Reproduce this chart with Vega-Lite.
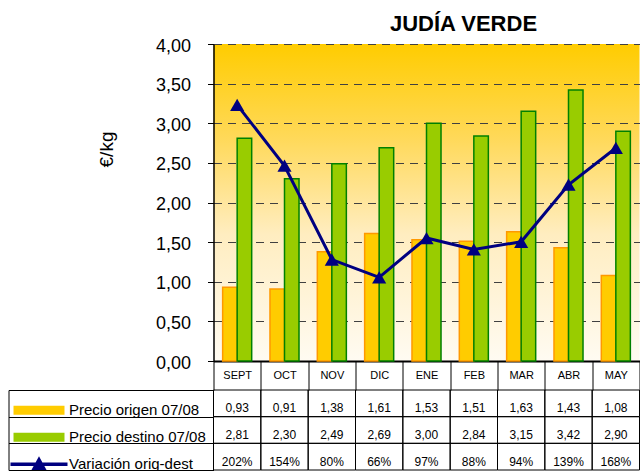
{
  "$schema": "https://vega.github.io/schema/vega-lite/v6.json",
  "padding": {"left": 7.5, "top": 13, "right": 0, "bottom": 0},
  "background": "white",
  "config": {
    "locale": {"number": {"decimal": ",", "thousands": ".", "grouping": [3], "currency": ["", " €"]}},
    "font": "Liberation Sans",
    "view": {"stroke": null}
  },
  "data": {
    "values": [
      {"mes": "SEPT", "Precio origen 07/08": 0.93, "Precio destino 07/08": 2.81, "Variación orig-dest": 2.02},
      {"mes": "OCT", "Precio origen 07/08": 0.91, "Precio destino 07/08": 2.30, "Variación orig-dest": 1.54},
      {"mes": "NOV", "Precio origen 07/08": 1.38, "Precio destino 07/08": 2.49, "Variación orig-dest": 0.80},
      {"mes": "DIC", "Precio origen 07/08": 1.61, "Precio destino 07/08": 2.69, "Variación orig-dest": 0.66},
      {"mes": "ENE", "Precio origen 07/08": 1.53, "Precio destino 07/08": 3.00, "Variación orig-dest": 0.97},
      {"mes": "FEB", "Precio origen 07/08": 1.51, "Precio destino 07/08": 2.84, "Variación orig-dest": 0.88},
      {"mes": "MAR", "Precio origen 07/08": 1.63, "Precio destino 07/08": 3.15, "Variación orig-dest": 0.94},
      {"mes": "ABR", "Precio origen 07/08": 1.43, "Precio destino 07/08": 3.42, "Variación orig-dest": 1.39},
      {"mes": "MAY", "Precio origen 07/08": 1.08, "Precio destino 07/08": 2.90, "Variación orig-dest": 1.68}
    ]
  },
  "transform": [
    {"fold": ["Precio origen 07/08", "Precio destino 07/08", "Variación orig-dest"], "as": ["serie", "valor"]}
  ],
  "vconcat": [
    {
      "width": 426,
      "height": 317,
      "view": {
        "stroke": null,
        "fill": {
          "gradient": "linear", "x1": 0, "y1": 0, "x2": 0, "y2": 1,
          "stops": [
            {"offset": 0, "color": "#FFCC00"},
            {"offset": 0.3, "color": "#FFD95A"},
            {"offset": 0.6, "color": "#FFEDC0"},
            {"offset": 1, "color": "#FFFBF2"}
          ]
        }
      },
      "title": {
        "text": "JUDÍA VERDE", "fontSize": 22, "font": "Liberation Sans", "fontWeight": "bold",
        "color": "black", "anchor": "middle", "frame": "group", "dx": 37, "offset": 1
      },
      "layer": [
        {
          "transform": [{"filter": "datum.serie !== 'Variación orig-dest'"}],
          "mark": {"type": "bar", "strokeWidth": 1.5},
          "encoding": {
            "x": {
              "field": "mes", "type": "nominal",
              "sort": ["SEPT", "OCT", "NOV", "DIC", "ENE", "FEB", "MAR", "ABR", "MAY"],
              "scale": {"paddingInner": 0, "paddingOuter": 0},
              "axis": {
                "title": null, "domain": true, "domainColor": "black", "domainWidth": 2,
                "ticks": true, "tickSize": 29, "tickColor": "black", "tickWidth": 1,
                "tickBand": "extent", "tickExtra": true, "grid": false,
                "labelFontSize": 11, "labelFont": "Liberation Sans", "labelColor": "black",
                "labelBaseline": "middle", "labelPadding": -14.5, "labelAngle": 0
              }
            },
            "xOffset": {
              "field": "serie", "type": "nominal",
              "sort": ["Precio origen 07/08", "Precio destino 07/08"],
              "scale": {"paddingInner": 0, "paddingOuter": 0.63}
            },
            "y": {
              "field": "valor", "type": "quantitative",
              "scale": {"domain": [0, 4]},
              "axis": {
                "values": [0, 0.5, 1, 1.5, 2, 2.5, 3, 3.5, 4], "format": ".2f",
                "title": "€/kg", "titleFontSize": 19, "titleFont": "Liberation Sans",
                "titleFontWeight": "normal", "titleColor": "black",
                "titleX": -107, "titleY": 105, "titleAngle": -90, "titleBaseline": "middle", "titleAlign": "center",
                "labelFontSize": 18, "labelFont": "Liberation Sans", "labelColor": "black",
                "labelPadding": 17, "labelOffset": 2, "tickSize": 6, "tickColor": "black",
                "domainColor": "black", "domainWidth": 1.5,
                "grid": true, "gridColor": "#404040", "gridDash": [8, 6], "gridWidth": 1
              }
            },
            "color": {
              "field": "serie", "type": "nominal",
              "scale": {
                "domain": ["Precio origen 07/08", "Precio destino 07/08", "Variación orig-dest"],
                "range": ["#FFCC00", "#99CC00", "#000080"]
              },
              "legend": {
                "orient": "none", "legendX": -205, "legendY": 353, "title": null,
                "padding": 0, "rowPadding": 0, "clipHeight": 26.67,
                "symbolSize": 2500, "symbolStrokeWidth": 2, "symbolOffset": 4.5,
                "labelOffset": 4, "labelFontSize": 15, "labelFont": "Liberation Sans",
                "labelColor": "black", "labelLimit": 0,
                "encode": {
                  "symbols": {
                    "update": {
                      "size": {"value": 2500},
                      "strokeWidth": {"value": 2},
                      "shape": {"signal": "datum.value === 'Variación orig-dest' ? 'M-1.1,-0.03H1.1V0.03H-1.1ZM-0.24,0.2L0,-0.24L0.24,0.2Z' : 'M-0.98,-0.14H0.98V0.14H-0.98Z'"},
                      "fill": {"signal": "datum.value === 'Precio origen 07/08' ? '#FFCC00' : datum.value === 'Precio destino 07/08' ? '#99CC00' : '#000080'"},
                      "stroke": {"signal": "datum.value === 'Precio origen 07/08' ? '#FF9900' : datum.value === 'Precio destino 07/08' ? '#008000' : '#000080'"},
                      "opacity": {"value": 1},
                      "fillOpacity": {"value": 1}
                    }
                  }
                }
              }
            },
            "stroke": {
              "field": "serie", "type": "nominal",
              "scale": {"domain": ["Precio origen 07/08", "Precio destino 07/08"], "range": ["#FF9900", "#008000"]},
              "legend": null
            }
          }
        },
        {
          "transform": [{"filter": "datum.serie === 'Variación orig-dest'"}],
          "mark": {"type": "line", "strokeWidth": 3, "point": {"shape": "triangle-up", "size": 200, "filled": true}},
          "encoding": {
            "x": {"field": "mes", "type": "nominal", "sort": ["SEPT", "OCT", "NOV", "DIC", "ENE", "FEB", "MAR", "ABR", "MAY"]},
            "y": {"field": "valor", "type": "quantitative", "scale": {"domain": [0, 2.5]}, "axis": null},
            "color": {"field": "serie", "type": "nominal"}
          }
        }
      ],
      "resolve": {"scale": {"y": "independent"}}
    },
    {
      "width": 426,
      "height": 80,
      "view": {"stroke": null},
      "encoding": {
        "x": {
          "field": "mes", "type": "nominal",
          "sort": ["SEPT", "OCT", "NOV", "DIC", "ENE", "FEB", "MAR", "ABR", "MAY"],
          "scale": {"paddingInner": 0, "paddingOuter": 0}, "axis": null
        },
        "y": {
          "field": "serie", "type": "nominal",
          "sort": ["Precio origen 07/08", "Precio destino 07/08", "Variación orig-dest"],
          "scale": {"paddingInner": 0, "paddingOuter": 0},
          "axis": {
            "orient": "left", "offset": 205, "title": null, "labels": false, "grid": false,
            "domain": true, "domainColor": "black", "domainWidth": 1,
            "ticks": true, "tickSize": -205, "tickColor": "black", "tickWidth": 1,
            "tickBand": "extent", "tickExtra": true
          }
        }
      },
      "layer": [
        {"mark": {"type": "rect", "filled": false, "stroke": "black", "strokeWidth": 1}},
        {
          "transform": [{"filter": "datum.serie !== 'Variación orig-dest'"}],
          "mark": {"type": "text", "fontSize": 12, "font": "Liberation Sans", "color": "black", "dy": 5},
          "encoding": {"text": {"field": "valor", "type": "quantitative", "format": ".2f"}}
        },
        {
          "transform": [{"filter": "datum.serie === 'Variación orig-dest'"}],
          "mark": {"type": "text", "fontSize": 12, "font": "Liberation Sans", "color": "black", "dy": 5},
          "encoding": {"text": {"field": "valor", "type": "quantitative", "format": ".0%"}}
        }
      ]
    }
  ],
  "spacing": 29,
  "bounds": "flush",
  "resolve": {
    "scale": {"color": "independent", "stroke": "independent", "x": "independent", "y": "independent"},
    "legend": {"color": "independent"}
  }
}
